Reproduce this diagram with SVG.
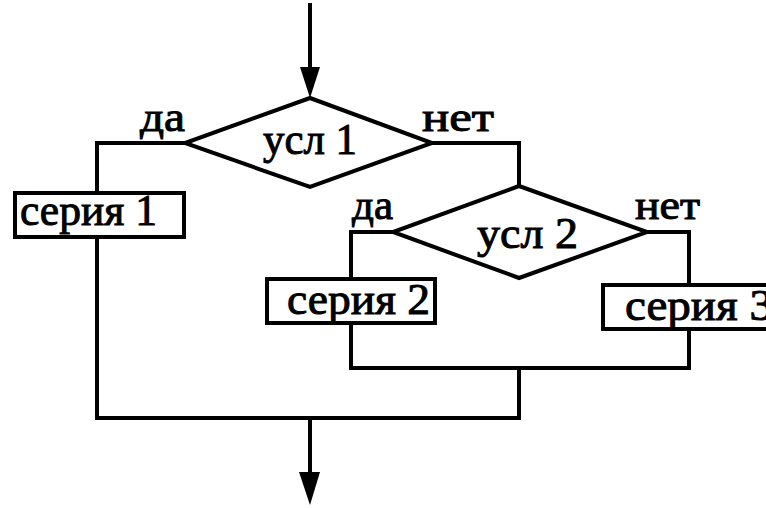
<svg xmlns="http://www.w3.org/2000/svg" width="766" height="508" viewBox="0 0 766 508">
<style>
.shape{fill:#fff;stroke:#000;stroke-width:4;stroke-linejoin:miter}
.line{fill:none;stroke:#000;stroke-width:4;stroke-linecap:square;stroke-linejoin:miter}
.head{fill:#000;stroke:none}
text{font-family:"Liberation Serif","Times New Roman",serif;fill:#000;stroke:#000;stroke-width:1}
.big{font-size:45px}
.lab{font-size:42px}
</style>
<rect width="766" height="508" fill="#fff"/>
<g id="connectors">
<line class="line" x1="310" y1="5" x2="310" y2="70"/>
<polygon class="head" points="300,67 320,67 310,98"/>
<polyline class="line" points="185,143 97,143 97,193"/>
<line class="line" x1="97" y1="237" x2="97" y2="418"/>
<polyline class="line" points="432,143 519,143 519,186"/>
<polyline class="line" points="393,232 351,232 351,279"/>
<polyline class="line" points="647,232 689,232 689,284"/>
<polyline class="line" points="351,323 351,368 689,368 689,329"/>
<polyline class="line" points="519,368 519,418 97,418"/>
<line class="line" x1="310" y1="418" x2="310" y2="475"/>
<polygon class="head" points="299,472 320,472 310,505"/>
</g>
<g id="cond1">
<polygon class="shape" points="310,98 432,143 310,187 185,143"/>
<text class="big" x="263" y="154" textLength="94" lengthAdjust="spacingAndGlyphs">усл 1</text>
</g>
<g id="label-yes1"><text class="lab" x="140" y="131" textLength="45" lengthAdjust="spacingAndGlyphs">да</text></g>
<g id="label-no1"><text class="lab" x="422" y="131" textLength="72" lengthAdjust="spacingAndGlyphs">нет</text></g>
<g id="series1">
<rect class="shape" x="15" y="193" width="169" height="44"/>
<text class="big" x="20" y="225" textLength="137" lengthAdjust="spacingAndGlyphs">серия 1</text>
</g>
<g id="cond2">
<polygon class="shape" points="519,186 647,232 519,278 393,232"/>
<text class="big" x="477" y="248" textLength="101" lengthAdjust="spacingAndGlyphs">усл 2</text>
</g>
<g id="label-yes2"><text class="lab" x="352" y="219" textLength="41" lengthAdjust="spacingAndGlyphs">да</text></g>
<g id="label-no2"><text class="lab" x="635" y="219" textLength="65" lengthAdjust="spacingAndGlyphs">нет</text></g>
<g id="series2">
<rect class="shape" x="267" y="279" width="168" height="44"/>
<text class="big" x="287" y="314" textLength="143" lengthAdjust="spacingAndGlyphs">серия 2</text>
</g>
<g id="series3">
<rect class="shape" x="603" y="285" width="175" height="44"/>
<text class="big" x="625" y="320" textLength="148" lengthAdjust="spacingAndGlyphs">серия 3</text>
</g>
</svg>
